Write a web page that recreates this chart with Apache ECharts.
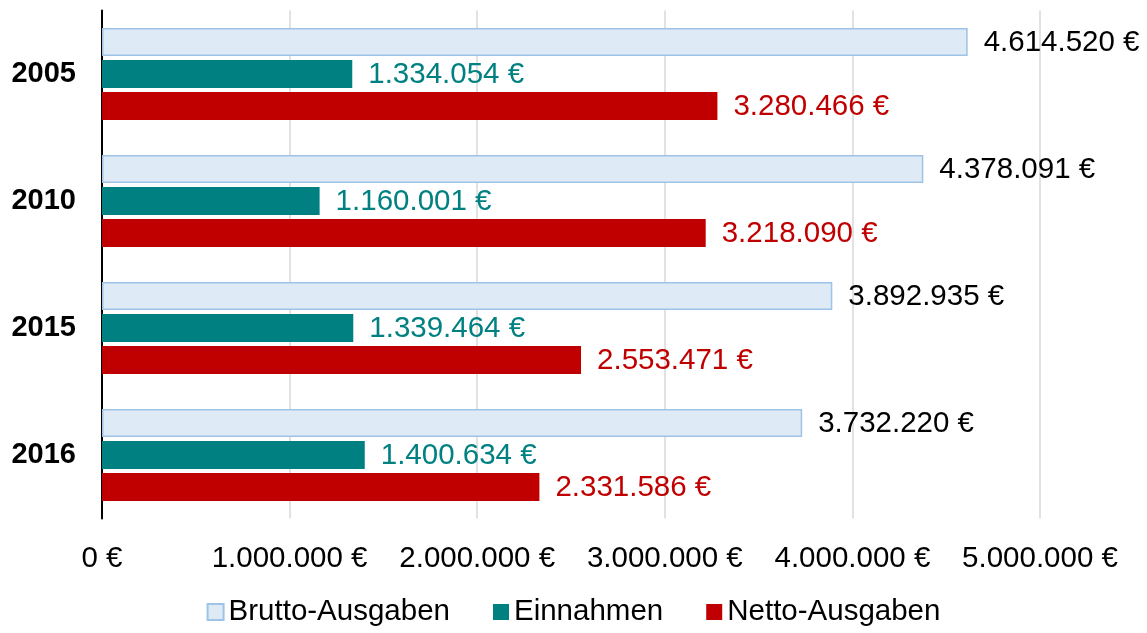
<!DOCTYPE html>
<html>
<head>
<meta charset="utf-8">
<script src="https://cdn.jsdelivr.net/npm/echarts@6/dist/echarts.min.js"></script>
<style>html,body{margin:0;padding:0;background:#fff;}#c{width:1147px;height:633px;}</style>
</head>
<body>
<div id="c"></div>
<script>
const categories = ['2005', '2010', '2015', '2016'];
const brutto = [4614520, 4378091, 3892935, 3732220];
const einnahmen = [1334054, 1160001, 1339464, 1400634];
const netto = [3280466, 3218090, 2553471, 2331586];
const seriesNames = ['Brutto-Ausgaben', 'Einnahmen', 'Netto-Ausgaben'];
const axisMax = 5000000;
const axisStep = 1000000;

function fmt(v) {
  return String(Math.round(v)).replace(/\B(?=(\d{3})+(?!\d))/g, '.') + ' €';
}

const FONT = 'Liberation Sans, Arial, sans-serif';
const FS = 29.5;
const chart = echarts.init(document.getElementById('c'), null, { renderer: 'canvas' });

function barSeries(name, data, fill, labelColor, border) {
  return {
    name: name,
    type: 'bar',
    data: data,
    barWidth: 28,
    barGap: '14%',
    itemStyle: border ? { color: fill, borderColor: border, borderWidth: 1.5 } : { color: fill },
    label: {
      show: true,
      position: 'right',
      distance: 16,
      offset: [0, 1],
      color: labelColor,
      fontFamily: FONT,
      fontSize: FS,
      formatter: p => fmt(p.value)
    },
    emphasis: { disabled: true }
  };
}

chart.setOption({
  animation: false,
  backgroundColor: '#ffffff',
  grid: { left: 102, right: 107, top: 10.5, bottom: 114.5, containLabel: false },
  legend: {
    bottom: 1,
    left: 'center',
    itemWidth: 16,
    itemHeight: 16,
    itemGap: 43,
    textStyle: { fontFamily: FONT, fontSize: FS, color: '#000' },
    data: [
      { name: seriesNames[0], icon: 'rect', itemStyle: { color: '#DEEBF7', borderColor: '#9DC3E6', borderWidth: 2 } },
      { name: seriesNames[1], icon: 'rect' },
      { name: seriesNames[2], icon: 'rect' }
    ]
  },
  xAxis: {
    type: 'value',
    min: 0,
    max: axisMax,
    interval: axisStep,
    axisLine: { show: false },
    axisTick: { show: false },
    splitLine: { show: true, lineStyle: { color: '#D9D9D9', width: 1.5 } },
    axisLabel: {
      fontFamily: FONT,
      fontSize: FS,
      color: '#000',
      margin: 25,
      formatter: v => fmt(v)
    }
  },
  yAxis: {
    type: 'category',
    data: categories,
    inverse: true,
    axisLine: { show: true, lineStyle: { color: '#000', width: 2 } },
    axisTick: { show: false },
    axisLabel: { fontFamily: FONT, fontSize: 29, fontWeight: 'bold', color: '#000', margin: 26 }
  },
  series: [
    barSeries(seriesNames[0], brutto, '#DEEBF7', '#000000', '#9DC3E6'),
    barSeries(seriesNames[1], einnahmen, '#008080', '#008080'),
    barSeries(seriesNames[2], netto, '#C00000', '#C00000')
  ]
});
</script>
</body>
</html>
